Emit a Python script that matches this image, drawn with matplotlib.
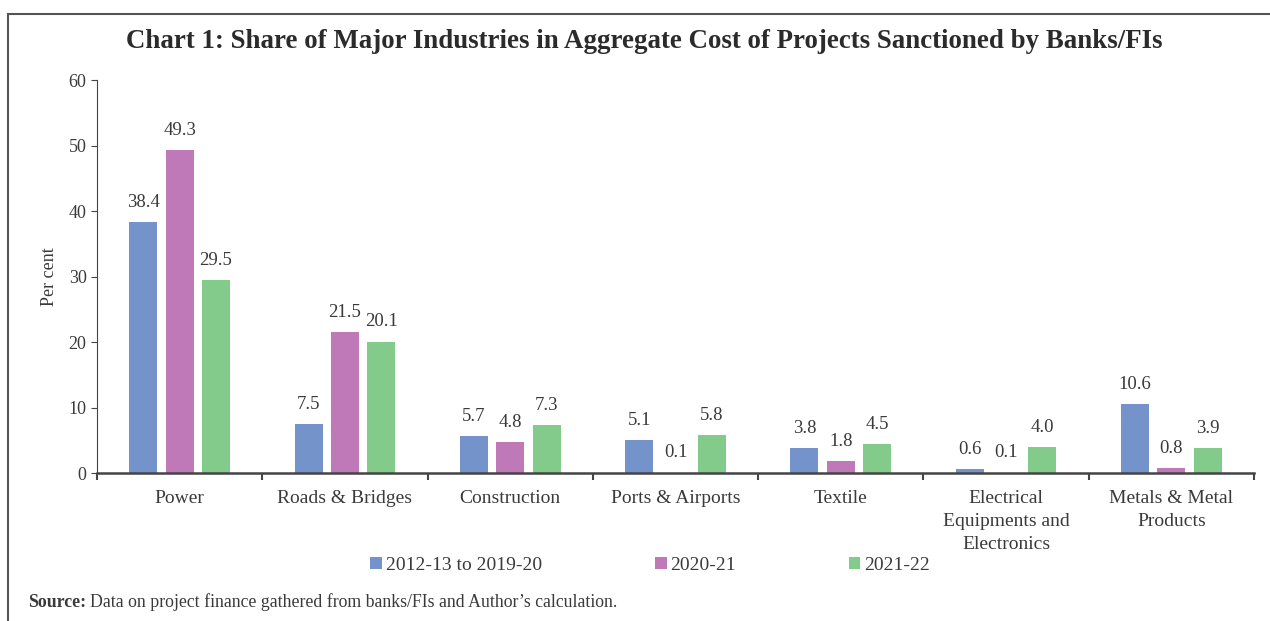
import numpy as np
import matplotlib.pyplot as plt
from matplotlib.patches import Rectangle

plt.rcParams.update({
    'font.family': 'Liberation Serif',
    'axes.spines.top': False,
    'axes.spines.right': False,
})
BLUE  = '#7393CA'
PINK  = '#BF79B8'
GREEN = '#83CB8B'
TXT   = '#3a3a3a'

categories = ['Power', 'Roads & Bridges', 'Construction', 'Ports & Airports',
              'Textile', 'Electrical\nEquipments and\nElectronics',
              'Metals & Metal\nProducts']
series_names = ['2012-13 to 2019-20', '2020-21', '2021-22']
s_2012_20 = [38.4, 7.5, 5.7, 5.1, 3.8, 0.6, 10.6]
s_2020_21 = [49.3, 21.5, 4.8, 0.1, 1.8, 0.1, 0.8]
s_2021_22 = [29.5, 20.1, 7.3, 5.8, 4.5, 4.0, 3.9]

fig = plt.figure(figsize=(12.7, 6.21), dpi=100)
ax = fig.add_axes([0.0764, 0.238, 0.911, 0.633])

x = np.arange(len(categories))
width = 0.17
step = 0.22

for k, (vals, color, name) in enumerate(zip([s_2012_20, s_2020_21, s_2021_22],
                                            [BLUE, PINK, GREEN], series_names)):
    pos = x + (k - 1) * step
    ax.bar(pos, vals, width, color=color, label=name)
    for p, v in zip(pos, vals):
        ax.annotate(f'{v:.1f}', (p, v), xytext=(0, 8), textcoords='offset points',
                    ha='center', va='bottom', fontsize=13.5, color=TXT)

ax.set_xlim(-0.5, len(categories) - 0.5)
ax.set_ylim(0, 60)
ax.set_yticks(range(0, 61, 10))
ax.set_xticks(np.arange(len(categories) + 1) - 0.5)
ax.set_xticklabels([])
ax.set_xticks(x, minor=True)
ax.set_xticklabels(categories, minor=True, fontsize=14, color=TXT, linespacing=1.45)
ax.tick_params(axis='x', which='minor', length=0, pad=12)
ax.tick_params(axis='x', which='major', length=5, width=1.5, color='#444444')
ax.tick_params(axis='y', labelsize=13, labelcolor=TXT, length=4, color='#444444')
ax.spines['left'].set_color('#444444')
ax.spines['bottom'].set_color('#444444')
ax.spines['bottom'].set_linewidth(1.8)
ax.set_ylabel('Per cent', fontsize=13, color=TXT, labelpad=8)

fig.text(0.507, 0.933, 'Chart 1: Share of Major Industries in Aggregate Cost of '
         'Projects Sanctioned by Banks/FIs', ha='center', va='center',
         fontsize=19.4, fontweight='bold', color='#2b2b2b')

leg = fig.legend(loc='center', bbox_to_anchor=(0.512, 0.09), ncol=3, frameon=False,
                 fontsize=14, handlelength=0.6, handleheight=0.6, handletextpad=0.2,
                 columnspacing=5.8)
for t in leg.get_texts():
    t.set_color(TXT)

src = fig.text(0.022, 0.03, 'Source:', fontsize=12.8, fontweight='bold',
               color=TXT, va='center')
fig.canvas.draw()
bb = src.get_window_extent().transformed(fig.transFigure.inverted())
fig.text(bb.x1 + 0.003, 0.03, 'Data on project finance gathered from banks/FIs '
         'and Author\u2019s calculation.', fontsize=12.8, color=TXT, va='center')

# frame of the screenshot box
fig.add_artist(Rectangle((0.006, -0.05), 1.2, 1.027, transform=fig.transFigure,
                         fill=False, edgecolor='#555555', lw=1.5))

fig.savefig('out.png', dpi=100)
